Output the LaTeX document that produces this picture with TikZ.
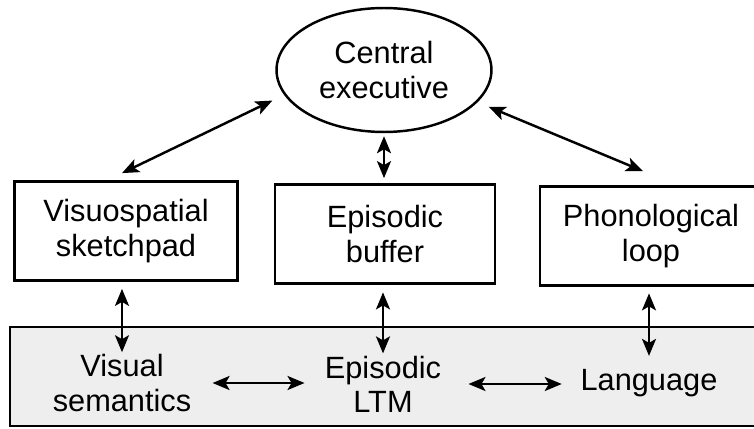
\documentclass[tikz,border=0pt]{standalone}
\usepackage{fontspec}
\setmainfont{Liberation Sans}
\usetikzlibrary{shapes.geometric,arrows.meta}

\begin{document}
\begin{tikzpicture}[x=0.02cm,y=-0.02cm,
  >={Stealth[length=0.34cm,width=0.28cm,inset=0.08cm]},
  every node/.style={font=\fontsize{17.5}{19.5}\selectfont,align=center,inner sep=0pt},
  box/.style={draw,line width=1.6pt,minimum width=4.46cm,minimum height=1.98cm},
  exec/.style={ellipse,draw,line width=1.4pt,minimum width=4.3cm,minimum height=2.48cm},
  link/.style={<->,line width=1.4pt}]
\useasboundingbox (0,0) rectangle (754,429);
\clip (0,0) rectangle (754,429);
% long-term memory band
\draw[line width=1.6pt,fill=gray!13] (10,327) rectangle (780,426);

\node[exec] (ce) at (384,70) {Central\\executive};
\node[box] (vsp) at (126,231) {Visuospatial\\sketchpad};
\node[box,minimum width=4.4cm] (eb) at (385,234) {Episodic\\buffer};
\node[box,minimum width=4.44cm] (pl) at (651,236) {Phonological\\loop};

\node (vis) at (122,383) {Visual\\semantics};
\node (elt) at (383,384) {Episodic\\LTM};
\node (lang) at (649,383) {Language};

% executive links
\draw[link,shorten <=0.26cm] (ce.194) -- ([xshift=-0.08cm,yshift=0.14cm]vsp.north);
\draw[link,shorten <=0.06cm,shorten >=0.1cm] (ce.south) -- (ce.south |- eb.north);
\draw[link,shorten <=0.24cm] (ce.341) -- ([xshift=-0.16cm,yshift=0.28cm]pl.north);

% links down to LTM
\draw[link,shorten <=0.14cm,shorten >=0.04cm] (vsp.south -| vis.north) -- (vis.north);
\draw[link,shorten <=0.15cm,shorten >=0.04cm] (eb.south -| elt.north) -- (elt.north);
\draw[link,shorten <=0.13cm,shorten >=0.26cm] (pl.south -| lang.north) -- (lang.north);

\draw[link,shorten <=0.42cm,shorten >=0.4cm] (vis.east) -- (vis.east -| elt.west);
\draw[link,shorten <=0.54cm,shorten >=0.37cm] (elt.east) -- (elt.east -| lang.west);
\end{tikzpicture}
\end{document}
